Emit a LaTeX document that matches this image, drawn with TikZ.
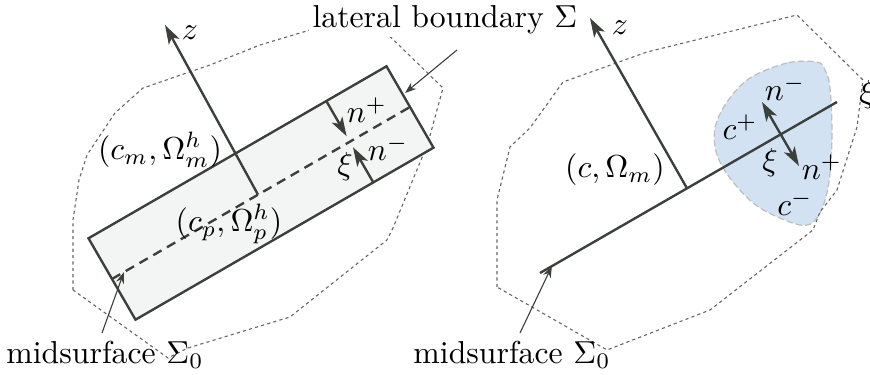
\documentclass[tikz,border=0pt]{standalone}
\usepackage{tikz}
\usetikzlibrary{arrows.meta, calc}

\definecolor{linegray}{HTML}{3C403D}
\definecolor{platefill}{HTML}{F3F5F4}
\definecolor{crackblue}{HTML}{D3E2F3}

\begin{document}
\begin{tikzpicture}[x=0.315pt, y=-0.315pt,
    domainline/.style={draw=black!60, line width=0.35pt, dash pattern=on 1pt off 1pt},
    plate/.style={draw=linegray, fill=platefill, line width=0.75pt},
    midline/.style={draw=linegray, line width=0.75pt, dash pattern=on 3pt off 2pt},
    crackline/.style={draw=linegray, line width=0.75pt},
    blob/.style={draw=black!25, fill=crackblue, line width=0.4pt, dash pattern=on 2pt off 1pt},
    axisarrow/.style={draw=linegray, line width=0.75pt, -{Stealth[length=6pt, width=3.8pt, inset=1.5pt]}},
    dblarrow/.style={draw=linegray, line width=0.75pt, {Stealth[length=6pt, width=3.8pt, inset=1.5pt]}-{Stealth[length=6pt, width=3.8pt, inset=1.5pt]}},
    pointer/.style={draw=linegray, line width=0.35pt, -{Stealth[length=3.6pt, width=2.6pt]}},
    lbl/.style={inner sep=1pt}]

\useasboundingbox (0,0) rectangle (870,375);

% left: smeared plate
\draw[domainline] (73,290) -- (73,220) -- (79,180) -- (87,155) -- (115,113) -- (143,88) -- (210,65)
    -- (260,45) -- (310,30) -- (373,20) -- (443,88) -- (428,143) -- (393,228) -- (387,240)
    -- (290,317) -- (188,348) -- (168,358) -- cycle;

\coordinate (midA) at (112,279);
\coordinate (midB) at (410,107);
\draw[plate] (88.5,238.3) -- (386.5,66.3) -- (433.5,147.7) -- (135.5,319.7) -- cycle;
\draw[midline] (midA) -- (midB);

\coordinate (zbaseL) at ($(midA)!0.49!(midB)$);
\coordinate (ztipL) at (165,25);
\draw[axisarrow] (zbaseL) -- (ztipL);
\node[lbl] (zL) at (190,33) {$z$};

\coordinate (xiL) at ($(midA)!0.798!(midB)$);
\coordinate (nupL) at (326.3,101);
\coordinate (nloL) at (373.3,182.4);
\draw[axisarrow, shorten >=2pt] (nupL) -- (xiL);
\draw[axisarrow, shorten >=2pt] (nloL) -- (xiL);
\node[lbl] (npL) at (367,110) {$n^+$};
\node[lbl] (nmL) at (388,148) {$n^-$};
\node[lbl] (xiLlbl) at (345,167) {$\xi$};

\node[lbl] (cmL) at (160,150) {$(c_m,\Omega^h_m)$};
\node[lbl] (cpL) at (229,224) {$(c_p,\Omega^h_p)$};

\node[lbl, fill=white] (latlbl) at (445,20) {lateral boundary $\Sigma$};
\coordinate (latfoot) at (457,50);
\coordinate (lattip) at (405,93);
\draw[pointer] (latfoot) -- (lattip);

\node[lbl] (midlblL) at (105,355) {midsurface $\Sigma_0$};
\coordinate (midfootL) at (102,333);
\coordinate (midtipL) at ($(midA)!0.04!(midB)$);
\draw[pointer] (midfootL) -- (midtipL);

% right: sharp crack
\draw[blob] plot[smooth cycle, tension=0.55] coordinates {(817,62) (787,63) (750,78) (727,102)
    (715,128) (717,155) (733,182) (760,208) (800,225) (817,218) (828,188) (832,138) (830,88) (825,70)};

\draw[domainline] (497,287) -- (497,200) -- (510,147) -- (530,128) -- (563,82) -- (647,52)
    -- (797,15) -- (863,80) -- (857,127) -- (837,190) -- (820,212) -- (813,230)
    -- (710,310) -- (607,350) -- cycle;

\coordinate (crackA) at (540,273);
\coordinate (crackB) at (837,102);
\draw[crackline] (crackA) -- (crackB);

\coordinate (zbaseR) at ($(crackA)!0.495!(crackB)$);
\coordinate (ztipR) at (590,18);
\draw[axisarrow] (zbaseR) -- (ztipR);
\node[lbl] (zR) at (620,28) {$z$};

\coordinate (nmtipR) at (762,102);
\coordinate (nptipR) at (799,166);
\draw[dblarrow] (nmtipR) -- (nptipR);
\node[lbl] (nmR) at (785,88) {$n^-$};
\node[lbl] (cplusR) at (740,127) {$c^+$};
\node[lbl] (xiRlbl) at (770,163) {$\xi$};
\node[lbl] (npR) at (822,167) {$n^+$};
\node[lbl] (cminusR) at (795,203) {$c^-$};
\node[lbl] (xiend) at (867,95) {$\xi$};

\node[lbl] (cR) at (615,170) {$(c,\Omega_m)$};

\node[lbl] (midlblR) at (512,355) {midsurface $\Sigma_0$};
\coordinate (midfootR) at (520,333);
\coordinate (midtipR) at ($(crackA)!0.04!(crackB)$);
\draw[pointer] (midfootR) -- (midtipR);
\end{tikzpicture}
\end{document}
